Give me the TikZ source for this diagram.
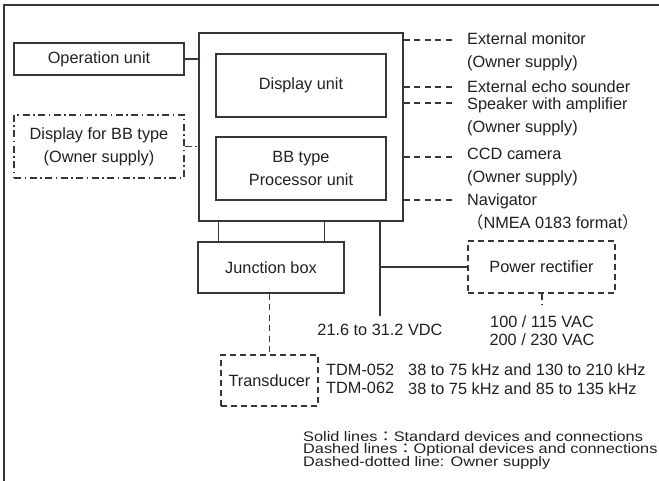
\documentclass[tikz,border=0pt]{standalone}
\usepackage{graphicx}
\usepackage{fontspec}
\setmainfont{Liberation Sans}
\newfontfamily\cjk{Noto Sans CJK JP}
\definecolor{ink}{HTML}{231F20}
\definecolor{ln}{HTML}{3A3637}
\newcommand\squash[1]{\scalebox{1}[0.85]{#1}}
\newcommand\fwcolon{\smash{\cjk ：}}
\begin{document}
\begin{tikzpicture}[x=1pt,y=-1pt,
  box/.style={draw=ln, line width=1.1pt, inner sep=0pt, align=center, text=ink,
    font=\fontsize{16.3}{23}\selectfont},
  dbox/.style={box, dash pattern=on 6pt off 4pt},
  ddbox/.style={box, dash pattern=on 7pt off 3.5pt on 1.5pt off 3.5pt},
  txt/.style={inner sep=0pt, align=left, text=ink, font=\fontsize{16.3}{23}\selectfont},
  legtxt/.style={inner sep=0pt, anchor=west, text=ink, font=\fontsize{16.3}{16}\selectfont},
  wire/.style={draw=ln, line width=1.1pt},
  dwire/.style={wire, dash pattern=on 6pt off 4.5pt},
  ddwire/.style={wire, dash pattern=on 7pt off 3.5pt on 1.5pt off 3.5pt}]
\useasboundingbox (0,0) rectangle (659,481);
% frame
\draw[wire] (4,481) -- (4,5) -- (659,5);
% boxes
\node[box, minimum width=170pt, minimum height=32pt] (op) at (99,59) {Operation unit};
\node[ddbox, minimum width=170pt, minimum height=63pt] (dbb) at (99,146.5) {Display for BB type\\(Owner supply)};
\node[box, minimum width=204pt, minimum height=188pt] (main) at (301,127) {};
\node[box, minimum width=170pt, minimum height=63pt] (disp) at (301,85.5) {Display unit};
\node[box, minimum width=170pt, minimum height=63pt] (proc) at (301,168.5) {BB type\\Processor unit};
\node[box, minimum width=146pt, minimum height=51pt] (jb) at (271,267.5) {Junction box};
\node[dbox, minimum width=147pt, minimum height=52pt] (pr) at (541.5,267) {Power rectifier};
\node[dbox, minimum width=97pt, minimum height=51pt] (tr) at (269.5,380.5) {Transducer};
% left connectors
\draw[wire] (op.east) -- (op.east -| main.west);
\draw[ddwire] (dbb.east) -- (dbb.east -| main.west);
% main to junction box
\draw[wire] ([xshift=21pt]jb.north west) -- ([xshift=21pt]jb.north west |- main.south);
\draw[wire] ([xshift=-20pt]jb.north east) -- ([xshift=-20pt]jb.north east |- main.south);
% power line
\coordinate (vdc) at (380,316);
\draw[wire] (vdc |- main.south) -- (vdc);
\draw[wire] (vdc |- pr.west) -- (pr.west);
\coordinate (vac) at (542,305);
\draw[dwire] (vac |- pr.south) -- (vac);
\node[txt, align=center] (vdct) at (380,330) {21.6 to 31.2 VDC};
\node[txt, align=center, font=\fontsize{16.3}{18}\selectfont] (vact) at (542,331) {100 / 115 VAC\\200 / 230 VAC};
% junction to transducer
\draw[dwire] (tr.north |- jb.south) -- (tr.north);
\node[txt, anchor=west, font=\fontsize{16.3}{18.5}\selectfont] (tdm) at (326,379) {TDM-052\\TDM-062};
\node[txt, anchor=west, font=\fontsize{16.3}{18.5}\selectfont] (freq) at (408,379) {38 to 75 kHz and 130 to 210 kHz\\38 to 75 kHz and 85 to 135 kHz};
% right side connectors
\coordinate (r1) at (455,40);
\coordinate (r2) at (455,87);
\coordinate (r3) at (455,103);
\coordinate (r4) at (455,157);
\coordinate (r5) at (455,200);
\foreach \r in {r1,r2,r3,r4,r5} \draw[dwire] (main.east |- \r) -- (\r);
\node[txt, anchor=west] (em) at (467,51.5) {External monitor\\(Owner supply)};
\node[txt, anchor=west] (es) at (467,87) {External echo sounder};
\node[txt, anchor=west] (sp) at (467,116.5) {Speaker with amplifier\\(Owner supply)};
\node[txt, anchor=west] (ccd) at (467,167.5) {CCD camera\\(Owner supply)};
\node[txt, anchor=west] (nav) at (467,212) {Navigator\\{\cjk （}NMEA 0183 format{\cjk ）}};
% legend
\node[legtxt] (leg1) at (303,436.5) {\squash{Solid lines\fwcolon Standard devices and connections}};
\node[legtxt] (leg2) at (303,449.5) {\squash{Dashed lines\fwcolon Optional devices and connections}};
\node[legtxt] (leg3) at (303,462.5) {\squash{Dashed-dotted line: Owner supply}};
\end{tikzpicture}
\end{document}
